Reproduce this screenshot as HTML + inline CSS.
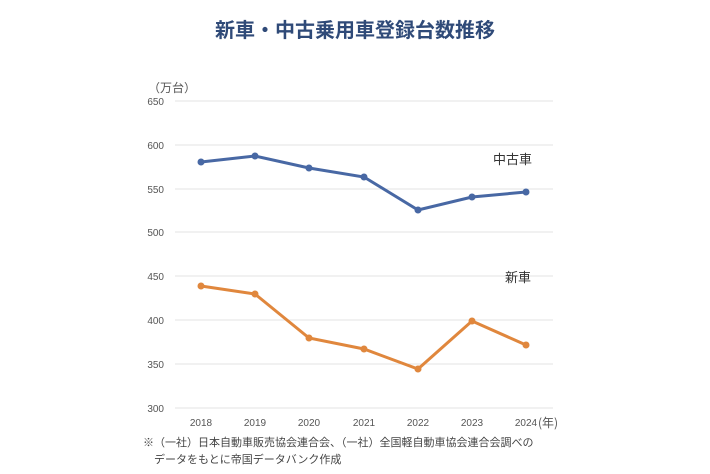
<!DOCTYPE html>
<html><head><meta charset="utf-8"><style>
body{margin:0;background:#fff;}
svg{display:block;font-family:"Liberation Sans","Noto Sans CJK JP",sans-serif;}
</style></head><body>
<svg width="710" height="474" viewBox="0 0 710 474" xmlns="http://www.w3.org/2000/svg">
<rect width="710" height="474" fill="#fff"/>
<text x="355" y="37" text-anchor="middle" font-size="20" font-weight="bold" fill="#2f4a78" font-family="'Noto Sans CJK JP',sans-serif">新車・中古乗用車登録台数推移</text>
<text x="148" y="92" font-size="12" fill="#555" font-family="'Noto Sans CJK JP',sans-serif">（万台）</text>
<g stroke="#e3e3e3" stroke-width="1">
<line x1="175" x2="553" y1="101" y2="101"/><line x1="175" x2="553" y1="145" y2="145"/>
<line x1="175" x2="553" y1="189" y2="189"/><line x1="175" x2="553" y1="232" y2="232"/>
<line x1="175" x2="553" y1="276" y2="276"/><line x1="175" x2="553" y1="320" y2="320"/>
<line x1="175" x2="553" y1="364" y2="364"/><line x1="175" x2="553" y1="408" y2="408"/>
</g>
<g font-size="10" fill="#555" text-anchor="end">
<text x="164" y="105">650</text><text x="164" y="149">600</text><text x="164" y="193">550</text>
<text x="164" y="236">500</text><text x="164" y="280">450</text><text x="164" y="324">400</text>
<text x="164" y="368">350</text><text x="164" y="412">300</text>
</g>
<g font-size="10" fill="#555" text-anchor="middle">
<text x="201" y="426">2018</text><text x="255" y="426">2019</text><text x="309" y="426">2020</text>
<text x="364" y="426">2021</text><text x="418" y="426">2022</text><text x="472" y="426">2023</text>
<text x="526" y="426">2024</text>
</g>
<text x="538" y="427" font-size="12" fill="#555" font-family="'Noto Sans CJK JP',sans-serif">(年)</text>
<polyline fill="none" stroke="#4868a4" stroke-width="3" points="201,162 255,156 309,168 364,177 418,210 472,197 526,192"/>
<g fill="#4868a4"><circle cx="201" cy="162" r="3.5"/><circle cx="255" cy="156" r="3.5"/><circle cx="309" cy="168" r="3.5"/><circle cx="364" cy="177" r="3.5"/><circle cx="418" cy="210" r="3.5"/><circle cx="472" cy="197" r="3.5"/><circle cx="526" cy="192" r="3.5"/></g>
<polyline fill="none" stroke="#e0873d" stroke-width="3" points="201,286 255,294 309,338 364,349 418,369 472,321 526,345"/>
<g fill="#e0873d"><circle cx="201" cy="286" r="3.5"/><circle cx="255" cy="294" r="3.5"/><circle cx="309" cy="338" r="3.5"/><circle cx="364" cy="349" r="3.5"/><circle cx="418" cy="369" r="3.5"/><circle cx="472" cy="321" r="3.5"/><circle cx="526" cy="345" r="3.5"/></g>
<text x="493" y="164" font-size="13" fill="#333" font-family="'Noto Sans CJK JP',sans-serif">中古車</text>
<text x="505" y="282" font-size="13" fill="#333" font-family="'Noto Sans CJK JP',sans-serif">新車</text>
<text x="143" y="446" font-size="11" fill="#444" font-family="'Noto Sans CJK JP',sans-serif">※（一社）日本自動車販売協会連合会、（一社）全国軽自動車協会連合会調べの</text>
<text x="154" y="463" font-size="11" fill="#444" font-family="'Noto Sans CJK JP',sans-serif">データをもとに帝国データバンク作成</text>
</svg>
</body></html>
